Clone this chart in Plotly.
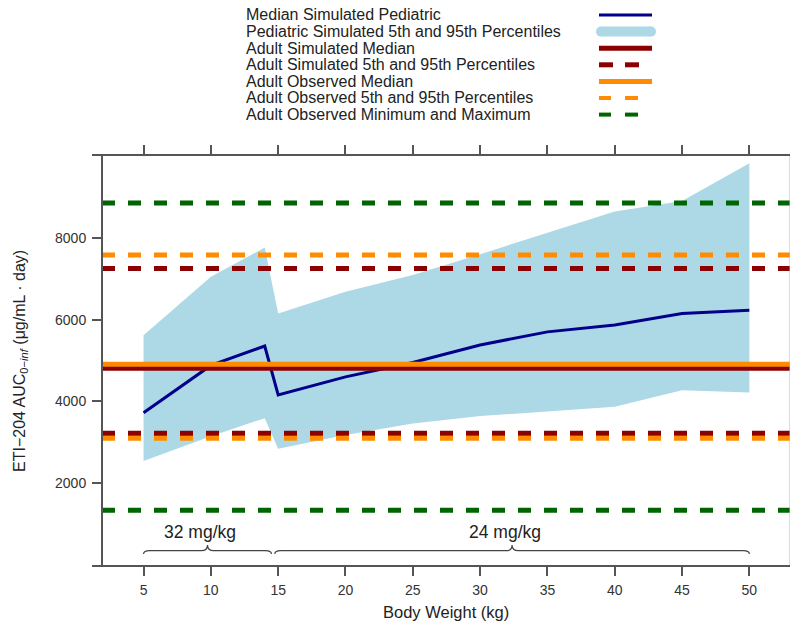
import plotly.graph_objects as go

# ---- data -------------------------------------------------------------
weight = [5, 10, 14, 15, 20, 25, 30, 35, 40, 45, 50]
ped_median = [3720, 4880, 5355, 4160, 4600, 4950, 5380, 5700, 5870, 6150, 6230]
ped_p5 = [2540, 3150, 3590, 2840, 3180, 3460, 3640, 3750, 3870, 4270, 4220]
ped_p95 = [5620, 7050, 7760, 6150, 6680, 7090, 7600, 8120, 8640, 8900, 9820]

adult_sim_median = 4820
adult_sim_pct = [3220, 7250]
adult_obs_median = 4910
adult_obs_pct = [3100, 7580]
adult_obs_range = [1340, 8850]

dose_labels = ["32 mg/kg", "24 mg/kg"]
dose_weights = [(5, 14.5), (14.75, 50)]

x_ticks = [5, 10, 15, 20, 25, 30, 35, 40, 45, 50]
y_ticks = [2000, 4000, 6000, 8000]

legend_labels = [
    "Median Simulated Pediatric",
    "Pediatric Simulated 5th and 95th Percentiles",
    "Adult Simulated Median",
    "Adult Simulated 5th and 95th Percentiles",
    "Adult Observed Median",
    "Adult Observed 5th and 95th Percentiles",
    "Adult Observed Minimum and Maximum",
]

# ---- layout constants ---------------------------------------------------
W, H = 790, 627
ML, MR, MT, MB = 92, 0, 156, 62
PW, PH = W - ML - MR, H - MT - MB
X_RANGE = [1.17, 53.02]
Y_RANGE = [0, 10000]
YAXIS_PX = 102  # left axis line position in pixels

NAVY = "#00008B"
LIGHTBLUE = "#ADD8E6"
DARKRED = "#8B0000"
ORANGE = "#FF8C00"
GREEN = "#006400"
AXIS = "#555555"
FONT = "Liberation Sans, Arial, sans-serif"


def px_x(px):
    return (px - ML) / PW


def px_y(py):
    return (H - MB - py) / PH


x_left = X_RANGE[0] + (YAXIS_PX - ML) / PW * (X_RANGE[1] - X_RANGE[0])
x_right = X_RANGE[1]

fig = go.Figure()

# pediatric 5th-95th band
fig.add_trace(go.Scatter(x=weight, y=ped_p5, mode="lines",
                         line=dict(width=0, color=LIGHTBLUE), showlegend=False))
fig.add_trace(go.Scatter(x=weight, y=ped_p95, mode="lines", fill="tonexty",
                         fillcolor=LIGHTBLUE, line=dict(width=0, color=LIGHTBLUE),
                         showlegend=False))
# pediatric median
fig.add_trace(go.Scatter(x=weight, y=ped_median, mode="lines",
                         line=dict(width=3, color=NAVY), showlegend=False))


def hline(val, color, width, dash="solid"):
    fig.add_trace(go.Scatter(x=[x_left, x_right], y=[val, val], mode="lines",
                             line=dict(color=color, width=width, dash=dash),
                             showlegend=False))


for v in adult_obs_range:
    hline(v, GREEN, 5, "13px,13px")
for v in adult_obs_pct:
    hline(v, ORANGE, 5, "13px,13px")
for v in adult_sim_pct:
    hline(v, DARKRED, 5, "13px,13px")
hline(adult_sim_median, DARKRED, 6)
hline(adult_obs_median, ORANGE, 5)

shapes = []
annotations = []

# dose-group braces
Y_END, Y_FLAT, Y_TIP = 269, 350, 489
HOOK = 0.45
for (a, b), lab in zip(dose_weights, dose_labels):
    m = (a + b) / 2
    path = (f"M {a},{Y_END} Q {a},{Y_FLAT} {a + HOOK},{Y_FLAT} "
            f"L {m - HOOK},{Y_FLAT} Q {m},{Y_FLAT} {m},{Y_TIP} "
            f"Q {m},{Y_FLAT} {m + HOOK},{Y_FLAT} "
            f"L {b - HOOK},{Y_FLAT} Q {b},{Y_FLAT} {b},{Y_END}")
    shapes.append(dict(type="path", path=path, xref="x", yref="y",
                       line=dict(color="#444444", width=1.2)))
    annotations.append(dict(x=m - 0.55, y=800, xref="x", yref="y", text=lab,
                            showarrow=False, xanchor="center", yanchor="middle",
                            font=dict(family=FONT, size=17.5, color="#222222")))

# right border
shapes.append(dict(type="line", xref="paper", yref="paper", x0=1, x1=1, y0=0, y1=1,
                   line=dict(color="#BBBBBB", width=1)))

# legend (text left, line sample right)
row_y = [15 + 16.6 * i for i in range(len(legend_labels))]
for lab, yc in zip(legend_labels, row_y):
    annotations.append(dict(x=px_x(244), y=px_y(yc), xref="paper", yref="paper",
                            text=lab, showarrow=False, xanchor="left",
                            yanchor="middle",
                            font=dict(family=FONT, size=16, color="#222222")))


def seg(x0, x1, yc, color, width):
    shapes.append(dict(type="line", xref="paper", yref="paper",
                       x0=px_x(x0), x1=px_x(x1), y0=px_y(yc), y1=px_y(yc),
                       line=dict(color=color, width=width)))


seg(599, 652, row_y[0], NAVY, 3)
seg(601, 651, row_y[1], LIGHTBLUE, 10)
for cx in (601, 651):
    shapes.append(dict(type="circle", xref="paper", yref="paper",
                       x0=px_x(cx - 5), x1=px_x(cx + 5),
                       y0=px_y(row_y[1] + 5), y1=px_y(row_y[1] - 5),
                       fillcolor=LIGHTBLUE, line=dict(width=0)))
seg(599, 652, row_y[2], DARKRED, 5)
seg(599, 613, row_y[3], DARKRED, 5)
seg(625, 639, row_y[3], DARKRED, 5)
seg(599, 652, row_y[4], ORANGE, 5)
seg(599, 611, row_y[5], ORANGE, 4)
seg(625, 638, row_y[5], ORANGE, 4)
seg(599, 611, row_y[6], GREEN, 4)
seg(625, 638, row_y[6], GREEN, 4)

# axis titles
annotations.append(dict(x=px_x(446), y=px_y(612), xref="paper", yref="paper",
                        text="Body Weight (kg)", showarrow=False,
                        xanchor="center", yanchor="middle",
                        font=dict(family=FONT, size=16.5, color="#222222")))
annotations.append(dict(x=px_x(20), y=px_y(361), xref="paper", yref="paper",
                        text="ETI\u2212204 AUC<sub>0\u2212<i>inf</i></sub> (\u03bcg/mL \u00b7 day)",
                        textangle=-90, showarrow=False,
                        xanchor="center", yanchor="middle",
                        font=dict(family=FONT, size=16, color="#222222")))

fig.update_layout(
    width=W, height=H,
    margin=dict(l=ML, r=MR, t=MT, b=MB, pad=0),
    paper_bgcolor="white", plot_bgcolor="white",
    showlegend=False,
    shapes=shapes, annotations=annotations,
    font=dict(family=FONT, color="#333333"),
    xaxis=dict(range=X_RANGE, tickvals=x_ticks, ticktext=[str(t) for t in x_ticks],
               ticks="outside", ticklen=9, tickwidth=1.5, tickcolor=AXIS,
               showline=True, linecolor=AXIS, linewidth=2, mirror="ticks",
               showgrid=False, zeroline=False, ticklabelstandoff=2,
               tickfont=dict(family=FONT, size=14, color="#333333")),
    yaxis=dict(range=Y_RANGE, tickvals=y_ticks, ticktext=[str(t) for t in y_ticks],
               anchor="free", position=px_x(YAXIS_PX),
               ticks="outside", ticklen=9, tickwidth=1.5, tickcolor=AXIS,
               showline=True, linecolor=AXIS, linewidth=2,
               showgrid=False, zeroline=False, ticklabelstandoff=3,
               tickfont=dict(family=FONT, size=14, color="#333333")),
)

fig.write_html("out.html")
